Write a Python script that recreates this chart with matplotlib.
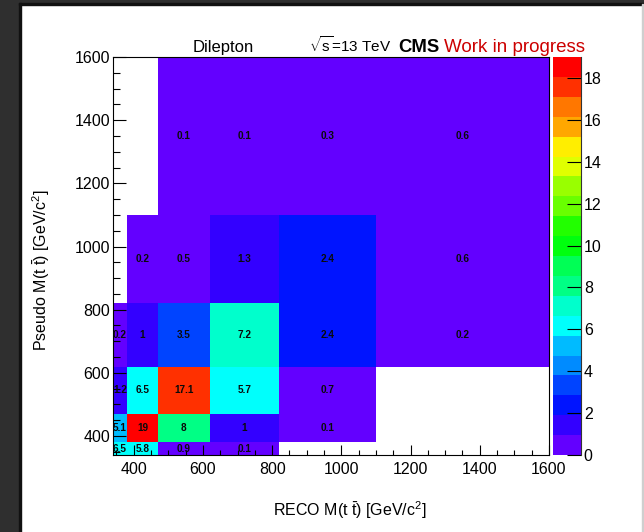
import colorsys
import numpy as np
import matplotlib
matplotlib.use("Agg")
import matplotlib.pyplot as plt
from matplotlib.colors import ListedColormap, BoundaryNorm
from matplotlib.patches import Rectangle
from matplotlib.ticker import FixedLocator

plt.rcParams['font.family'] = ['Liberation Sans', 'DejaVu Sans']
plt.rcParams['mathtext.fontset'] = 'custom'
plt.rcParams['mathtext.rm'] = 'Liberation Sans'
plt.rcParams['mathtext.it'] = 'Liberation Sans:italic'
plt.rcParams['mathtext.bf'] = 'Liberation Sans:bold'

# ---------------- data ----------------
bin_edges = [340, 380, 470, 620, 820, 1100, 1600]   # same binning on both axes
# rows: Pseudo M(tt) bins (bottom -> top); columns: RECO M(tt) bins (left -> right); 0 = empty
counts = [
    [6.5, 5.8, 0.9, 0.1, 0.0, 0.0],
    [5.1, 19.0, 8.0, 1.0, 0.1, 0.0],
    [1.2, 6.5, 17.1, 5.7, 0.7, 0.0],
    [0.2, 1.0, 3.5, 7.2, 2.4, 0.2],
    [0.0, 0.2, 0.5, 1.3, 2.4, 0.6],
    [0.0, 0.0, 0.1, 0.1, 0.3, 0.6],
]
z_max = 19.0
n_contours = 20
x_major = [400, 600, 800, 1000, 1200, 1400, 1600]
y_major = [400, 600, 800, 1000, 1200, 1400, 1600]
z_ticks = [0, 2, 4, 6, 8, 10, 12, 14, 16, 18]

# ---------------- ROOT "pretty" palette (colors 51-100) ----------------
pretty = []
for i in range(49):
    hue = 280 - (i + 1) * 280 / 50
    pretty.append(colorsys.hls_to_rgb(hue / 360, 0.5, 1.0))
pretty.append((1.0, 0.0, 0.0))
band_colors = [pretty[int((k + 0.99) * 50 / n_contours)] for k in range(n_contours)]
cmap = ListedColormap(band_colors)
cmap.set_over(band_colors[-1])
levels = np.linspace(0, z_max, n_contours + 1)
norm = BoundaryNorm(levels, n_contours)

W, H = 644, 532
fig = plt.figure(figsize=(W / 100, H / 100), dpi=100)

# canvas frame (dark window border)
fig.patches.append(Rectangle((0, 0), 20 / W, 1, transform=fig.transFigure, color='#2f2f2f', zorder=-5))
fig.patches.append(Rectangle((19 / W, 0), 2 / W, 1 - 3 / H, transform=fig.transFigure, color='#111111', zorder=-4))
fig.patches.append(Rectangle((0, 1 - 3 / H), 1, 3 / H, transform=fig.transFigure, color='#2f2f2f', zorder=-5))
fig.patches.append(Rectangle((19 / W, 1 - 4.5 / H), 1, 1.5 / H, transform=fig.transFigure, color='#111111', zorder=-4))
fig.patches.append(Rectangle((1 - 2.5 / W, 0), 1.2 / W, 1 - 4 / H, transform=fig.transFigure, color='#cfcfcf', zorder=-4))

def fx(px):
    return px / W

def fy(py):
    return 1 - py / H

L, R, T, B = 113, 549, 57, 455
ax = fig.add_axes([fx(L), fy(B), fx(R) - fx(L), fy(T) - fy(B)])

Z = np.ma.masked_equal(np.array(counts), 0.0)
mesh = ax.pcolormesh(bin_edges, bin_edges, Z, cmap=cmap, norm=norm,
                     edgecolors='none', antialiased=False)

centers = [(bin_edges[i] + bin_edges[i + 1]) / 2 for i in range(len(bin_edges) - 1)]
for r, row in enumerate(counts):
    for c, v in enumerate(row):
        if v != 0:
            ax.text(centers[c], centers[r], f"{v:g}", ha='center', va='center',
                    fontsize=7.2, fontweight='bold', color='#0a0a0a')

ax.set_xlim(bin_edges[0], bin_edges[-1])
ax.set_ylim(bin_edges[0], bin_edges[-1])
ax.xaxis.set_major_locator(FixedLocator(x_major))
ax.yaxis.set_major_locator(FixedLocator(y_major))
ax.xaxis.set_minor_locator(FixedLocator(list(range(350, 1601, 50))))
ax.yaxis.set_minor_locator(FixedLocator(list(range(350, 1601, 50))))
ax.tick_params(axis='x', which='major', direction='in', length=7, width=0.8, labelsize=11.5, pad=5)
ax.tick_params(axis='x', which='minor', direction='in', length=3.6, width=0.8)
ax.tick_params(axis='y', which='major', direction='in', length=9.5, width=0.8, labelsize=11.5, pad=2)
ax.tick_params(axis='y', which='minor', direction='in', length=5, width=0.8)
for s in ax.spines.values():
    s.set_linewidth(0.8)

# colorbar (palette axis)
cax = fig.add_axes([fx(553), fy(455), fx(581) - fx(553), fy(57) - fy(455)])
cb = fig.colorbar(mesh, cax=cax, ticks=z_ticks)
cb.outline.set_visible(False)
cax.axvline(1, color='#333333', lw=0.8, clip_on=False)
cax.tick_params(axis='y', which='major', direction='in', length=10, width=0.8,
                labelsize=11.5, pad=2, right=True, left=False)
cax.minorticks_off()

# axis titles
fig.text(fx(350), fy(510), r"RECO M(t $\bar{\mathrm{t}}$) [GeV/c$^{2}$]",
         ha='center', va='center', fontsize=11.5)
fig.text(fx(41), fy(270), r"Pseudo M(t $\bar{\mathrm{t}}$) [GeV/c$^{2}$]",
         ha='center', va='center', fontsize=11.5, rotation=90)

# header texts
fig.text(fx(193), fy(52), "Dilepton", ha='left', va='baseline', fontsize=12)
fig.text(fx(309), fy(52), r"$\sqrt{\mathrm{s}}$=13 TeV", ha='left', va='baseline', fontsize=11)
fig.text(fx(398), fy(52), "CMS", ha='left', va='baseline', fontsize=13.3, fontweight='bold')
fig.text(fx(444), fy(52), "Work in progress", ha='left', va='baseline', fontsize=13.5, color='#cc0000')

fig.savefig("out.png", dpi=100)
